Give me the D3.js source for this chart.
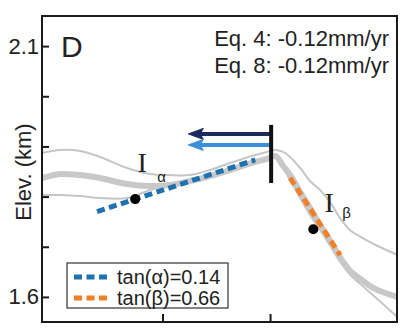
<!DOCTYPE html>
<html>
<head>
<meta charset="utf-8">
<script src="https://cdn.jsdelivr.net/npm/d3@7"></script>
<style>
  html, body { margin: 0; padding: 0; background: #fff; }
  svg { display: block; font-family: "Liberation Sans", Arial, sans-serif; }
</style>
</head>
<body>
<svg id="chart" width="406" height="331"></svg>
<script>
// Along-profile distance (km) shared by the three swath profiles
const dist = [-0.060, 0.024, 0.117, 0.210, 0.335, 0.442, 0.535, 0.628, 0.721, 0.829,
              0.931, 0.986, 1.024, 1.061, 1.093, 1.140, 1.186, 1.233, 1.279, 1.326,
              1.372, 1.419, 1.488, 1.591];
// Swath elevations (km): mean, maximum and minimum
const elevMean = [1.837, 1.845, 1.843, 1.837, 1.825, 1.821, 1.823, 1.831, 1.841, 1.855,
                  1.869, 1.875, 1.881, 1.861, 1.843, 1.809, 1.777, 1.743, 1.712, 1.678,
                  1.652, 1.636, 1.616, 1.600];
const elevMax  = [1.887, 1.893, 1.891, 1.879, 1.857, 1.845, 1.843, 1.843, 1.853, 1.869,
                  1.883, 1.889, 1.893, 1.889, 1.879, 1.857, 1.831, 1.813, 1.789, 1.757,
                  1.733, 1.720, 1.704, 1.684];
const elevMin  = [1.803, 1.803, 1.801, 1.797, 1.797, 1.813, 1.825, 1.835, 1.843, 1.857,
                  1.869, 1.875, 1.877, 1.857, 1.833, 1.797, 1.763, 1.733, 1.702, 1.670,
                  1.644, 1.626, 1.600, 1.560];

// Fitted hillslope gradients
const slopeLabels = ["tan(\u03B1)=0.14", "tan(\u03B2)=0.66"];
const slopeTan    = [0.14, -0.66];
const slopeAnchorX = [0.373, 1.210];   // point each fit passes through
const slopeAnchorY = [1.795, 1.760];
const slopeFromX  = [0.196, 1.093];
const slopeToX    = [0.931, 1.326];
const slopeColors = ["#1f72b0", "#f07f26"];

// Sample points on each slope
const pointX = [0.373, 1.201];
const pointY = [1.795, 1.735];

// Divide position and migration arrows
const divideX = 1.005;
const divideY = [1.827, 1.943];
const arrowY = [1.925, 1.903];
const arrowTipX = [0.620, 0.620];
const arrowColors = ["#1c2b5f", "#3b8fd8"];

// Rates
const rateLabels = ["Eq. 4: -0.12mm/yr", "Eq. 8: -0.12mm/yr"];

// Axis ticks
const yTicks = [1.6, 1.7, 1.8, 1.9, 2.0, 2.1];
const yLabelled = [1.6, 2.1];
const xTicks = [0.5, 1.0];

const svg = d3.select("#chart");
const L = 42, R = 397, T = 16, B = 322;

const x = d3.scaleLinear().domain([-0.06, 1.59]).range([L, R]);
const y = d3.scaleLinear().domain([1.55, 2.16]).range([B, T]);

svg.append("defs").append("clipPath").attr("id", "plotclip")
  .append("rect").attr("x", L).attr("y", T).attr("width", R - L).attr("height", B - T);

const plot = svg.append("g").attr("clip-path", "url(#plotclip)");

const profileLine = vals => d3.line()
  .x((d, i) => x(dist[i]))
  .y(d => y(d))
  .curve(d3.curveCatmullRom.alpha(0.5))(vals);

// Swath envelope and mean
[elevMax, elevMin].forEach(v => {
  plot.append("path").attr("d", profileLine(v))
    .attr("fill", "none").attr("stroke", "#c6c6c6").attr("stroke-width", 2);
});
plot.append("path").attr("d", profileLine(elevMean))
  .attr("fill", "none").attr("stroke", "#c8c8c8").attr("stroke-width", 6)
  .attr("stroke-linejoin", "round");

// Dashed slope fits
slopeTan.forEach((t, i) => {
  const f = xx => slopeAnchorY[i] + t * (xx - slopeAnchorX[i]);
  plot.append("line")
    .attr("x1", x(slopeFromX[i])).attr("y1", y(f(slopeFromX[i])))
    .attr("x2", x(slopeToX[i])).attr("y2", y(f(slopeToX[i])))
    .attr("stroke", slopeColors[i]).attr("stroke-width", 5)
    .attr("stroke-dasharray", "8,4.5");
});

// Sample points
pointX.forEach((px, i) => {
  plot.append("circle").attr("cx", x(px)).attr("cy", y(pointY[i]))
    .attr("r", 5).attr("fill", "#000");
});

// Migration arrows
arrowY.forEach((ay, i) => {
  const y0 = y(ay), x0 = x(divideX), x1 = x(arrowTipX[i]);
  plot.append("line").attr("x1", x0).attr("y1", y0).attr("x2", x1 + 10).attr("y2", y0)
    .attr("stroke", arrowColors[i]).attr("stroke-width", 4);
  plot.append("path")
    .attr("d", `M${x1},${y0} L${x1 + 15},${y0 - 5.5} L${x1 + 12},${y0} L${x1 + 15},${y0 + 5.5} Z`)
    .attr("fill", arrowColors[i]).attr("stroke", arrowColors[i]).attr("stroke-width", 1);
});

// Drainage divide bar
plot.append("line")
  .attr("x1", x(divideX)).attr("x2", x(divideX))
  .attr("y1", y(divideY[0])).attr("y2", y(divideY[1]))
  .attr("stroke", "#111").attr("stroke-width", 4);

// Hillslope labels
const hill = [
  { ix: 0.405, iy: 1.849, sx: 0.476, sy: 1.829, s: "\u03B1" },
  { ix: 1.275, iy: 1.769, sx: 1.336, sy: 1.757, s: "\u03B2" }
];
hill.forEach(h => {
  svg.append("text").attr("x", x(h.ix)).attr("y", y(h.iy))
    .attr("text-anchor", "middle").attr("font-family", "Liberation Serif, serif")
    .attr("font-size", 28).attr("fill", "#222").text("I");
  svg.append("text").attr("x", x(h.sx)).attr("y", y(h.sy))
    .attr("font-size", 15).attr("fill", "#222").text(h.s);
});

// Axes (ticks point inward)
const yAxis = svg.append("g").attr("transform", `translate(${L},0)`)
  .call(d3.axisLeft(y).tickValues(yTicks).tickSize(-7).tickPadding(3)
    .tickFormat(d => yLabelled.some(v => Math.abs(v - d) < 1e-9) ? d3.format(".1f")(d) : ""));
yAxis.select(".domain").remove();
yAxis.selectAll(".tick line").attr("stroke", "#1a1a1a").attr("stroke-width", 2);
yAxis.selectAll(".tick text").attr("font-size", 22).attr("fill", "#222")
  .attr("font-family", "Liberation Sans, Arial, sans-serif");

const xAxis = svg.append("g").attr("transform", `translate(0,${B})`)
  .call(d3.axisBottom(x).tickValues(xTicks).tickSize(-8).tickFormat(""));
xAxis.select(".domain").remove();
xAxis.selectAll(".tick line").attr("stroke", "#1a1a1a").attr("stroke-width", 2);

// Plot frame
svg.append("rect").attr("x", L).attr("y", T).attr("width", R - L).attr("height", B - T)
  .attr("fill", "none").attr("stroke", "#1a1a1a").attr("stroke-width", 2);

// Panel letter
svg.append("text").attr("x", 61).attr("y", 57).attr("font-size", 30)
  .attr("fill", "#222").text("D");

// Rate annotations
rateLabels.forEach((t, i) => {
  svg.append("text").attr("x", 389).attr("y", 46 + i * 27)
    .attr("text-anchor", "end").attr("font-size", 22).attr("fill", "#222").text(t);
});

// Y axis title
svg.append("text").attr("transform", "translate(31,172) rotate(-90)")
  .attr("text-anchor", "middle").attr("font-size", 22).attr("fill", "#222")
  .text("Elev. (km)");

// Legend
const lg = svg.append("g");
lg.append("rect").attr("x", 67).attr("y", 263).attr("width", 161).attr("height", 45)
  .attr("fill", "#fff").attr("stroke", "#333").attr("stroke-width", 1.2);
slopeLabels.forEach((t, i) => {
  const ly = 277 + i * 21;
  lg.append("line").attr("x1", 74).attr("x2", 111).attr("y1", ly).attr("y2", ly)
    .attr("stroke", slopeColors[i]).attr("stroke-width", 5).attr("stroke-dasharray", "8,4.5");
  lg.append("text").attr("x", 117).attr("y", ly + 7).attr("font-size", 20)
    .attr("fill", "#222").text(t);
});
</script>
</body>
</html>
